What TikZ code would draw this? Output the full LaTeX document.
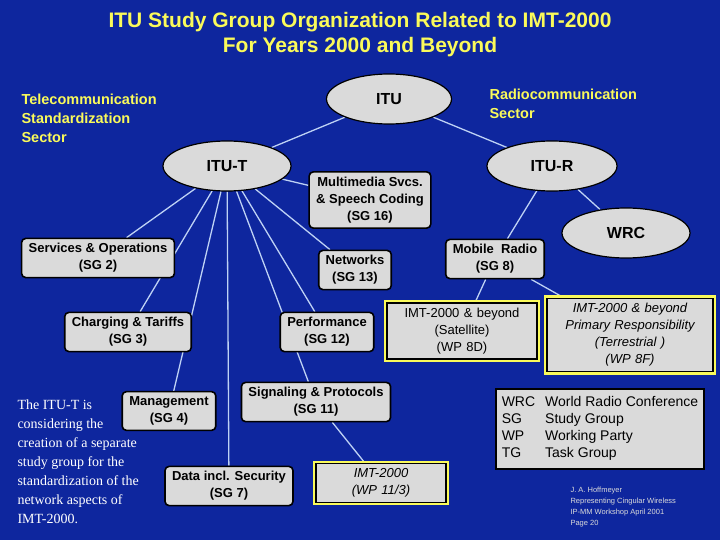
\documentclass[tikz,border=0pt]{standalone}
\usepackage{fontspec}
\setmainfont{Liberation Sans}
\newfontfamily\serifface{Liberation Serif}
\usetikzlibrary{shapes.geometric,backgrounds}
\definecolor{slidebg}{RGB}{14,38,158}
\definecolor{slideyellow}{RGB}{250,250,90}
\definecolor{linkblue}{RGB}{190,210,245}
\definecolor{boxgray}{RGB}{218,218,218}
\tikzset{
  sector/.style={ellipse, draw=black, line width=1.2pt, fill=boxgray, minimum width=#1, minimum height=50pt, font=\fontsize{16}{18}\selectfont\bfseries},
  sector/.default=128pt,
  group/.style={draw=black, line width=1.6pt, rounded corners=4pt, fill=boxgray, align=center, font=\fontsize{13}{17}\selectfont\bfseries, inner xsep=7pt, inner ysep=5pt},
  imt/.style={group, preaction={draw=slideyellow, line width=6pt, rounded corners=0pt}, rounded corners=0pt},
  link/.style={draw=linkblue, line width=1.3pt},
  caption/.style={text=slideyellow, align=left, font=\fontsize{14.5}{19}\selectfont\bfseries}
}
\begin{document}
\begin{tikzpicture}[x=1pt, y=-1pt]
	% title
	\node[text=slideyellow, align=center, font=\fontsize{21}{25}\selectfont\bfseries] (title) at (360,35) {ITU Study Group Organization Related to IMT-2000\\For Years 2000 and Beyond};
	\node[caption, anchor=north west] (tsector) at (18,90) {Telecommunication\\Standardization\\Sector};
	\node[caption, anchor=north west] (rsector) at (486,85) {Radiocommunication\\Sector};
	% sectors
	\node[sector=125pt] (itu) at (389,99) {ITU};
	\node[sector] (itut) at (227,166) {ITU-T};
	\node[sector=130pt] (itur) at (552,166) {ITU-R};
	\node[sector] (wrc) at (626,233) {WRC};
	% study groups
	\node[group] (sg16) at (370,200) {Multimedia Svcs.\\\& Speech Coding\\(SG 16)};
	\node[group] (sg2) at (98,258) {Services \& Operations\\(SG 2)};
	\node[group] (sg13) at (355,270) {Networks\\(SG 13)};
	\node[group] (sg8) at (495,259) {Mobile\ \ Radio\\(SG 8)};
	\node[group] (sg3) at (128,332) {Charging \& Tariffs\\(SG 3)};
	\node[group] (sg12) at (327,332) {Performance\\(SG 12)};
	\node[imt, font=\fontsize{13}{17}\selectfont, text width=136pt] (wp8d) at (462,331) {IMT-2000 \& beyond\\(Satellite)\\(WP 8D)};
	\node[imt, font=\fontsize{13}{17}\selectfont\itshape, text width=152pt] (wp8f) at (630,335) {IMT-2000 \& beyond\\Primary Responsibility\\(Terrestrial )\\(WP 8F)};
	\node[group] (sg4) at (169,411) {Management\\(SG 4)};
	\node[group] (sg11) at (316,402) {Signaling \& Protocols\\(SG 11)};
	\node[group] (sg7) at (229,486) {Data incl. Security\\(SG 7)};
	\node[imt, font=\fontsize{13}{17}\selectfont\itshape, text width=116pt] (wp113) at (381,483) {IMT-2000\\(WP 11/3)};
	% legend
	\node[group, font=\fontsize{14}{17}\selectfont, align=left, rounded corners=0pt, inner sep=6pt] (legend) at (600,429) {\begin{tabular}{@{}l@{\hspace{10pt}}l@{}}WRC & World Radio Conference\\SG & Study Group\\WP & Working Party\\TG & Task Group\end{tabular}};
	\node[text=boxgray, align=left, anchor=north west, font=\fontsize{7.5}{11}\selectfont] (credit) at (567,484) {J. A. Hoffmeyer\\Representing Cingular Wireless\\IP-MM Workshop April 2001\\Page 20};
	\node[text=white, align=left, anchor=north west, font=\serifface\fontsize{14}{19}\selectfont] (note) at (14,396) {The ITU-T is\\considering the\\creation of a separate\\study group for the\\standardization of the\\network aspects of\\IMT-2000.};
	% connectors
	\begin{pgfonlayer}{background}
		\fill[slidebg] (0,0) rectangle (720,540);
		\draw[link] (itu) -- (itut);
		\draw[link] (itu) -- (itur);
		\foreach \sg in {sg16,sg2,sg13,sg3,sg12,sg4,sg11,sg7}
			\draw[link] (itut) -- (\sg);
		\draw[link] (itur) -- (wrc);
		\draw[link] (itur) -- (sg8);
		\draw[link] (sg8) -- (wp8d);
		\draw[link] (sg8) -- (wp8f);
		\draw[link] (sg11) -- (wp113);
	\end{pgfonlayer}
\end{tikzpicture}
\end{document}
